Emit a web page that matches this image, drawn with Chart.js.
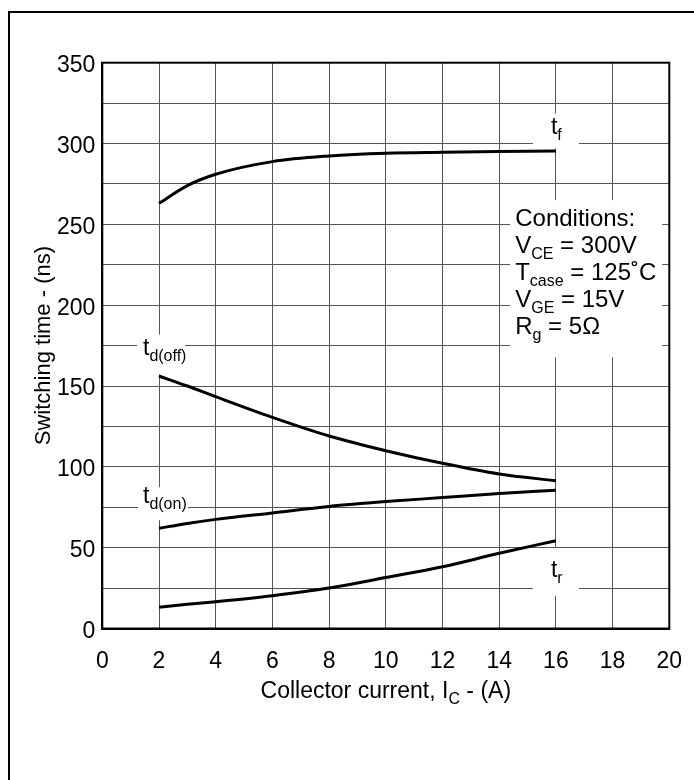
<!DOCTYPE html>
<html>
<head>
<meta charset="utf-8">
<style>
  html, body { margin: 0; padding: 0; background: #fff; }
  #wrap { width: 694px; height: 780px; }
</style>
</head>
<body>
<div id="wrap"><canvas id="switchChart" width="694" height="780"></canvas></div>
<script src="https://cdn.jsdelivr.net/npm/chart.js@4/dist/chart.umd.min.js"></script>
<script>
// collector current (A) and switching times (ns)
const current = [2, 3, 4, 6, 8, 10, 12, 14, 16];
const tf = [263, 274, 281, 288.8, 292.3, 294, 294.6, 295, 295.4];
const tdOff = [156.2, 150, 143.4, 130.6, 119.1, 110, 102.2, 95.6, 91.4];
const tdOn = [62, 65, 67.5, 71.5, 75.5, 78.5, 81, 83.5, 85.5];
const tr = [13.1, 15, 16.6, 20.3, 25, 31.5, 38.2, 46.5, 54.3];

const conditions = [
    [['Conditions:', 0]],
    [['V', 0], ['CE', 1], [' = 300V', 0]],
    [['T', 0], ['case', 1], [' = 125\u02DAC', 0]],
    [['V', 0], ['GE', 1], [' = 15V', 0]],
    [['R', 0], ['g', 1], [' = 5\u03A9', 0]]
];

const FONT = "'Liberation Sans', Arial, Helvetica, sans-serif";

function toPoints(ys) {
    return current.map((x, i) => ({ x: x, y: ys[i] }));
}

function curve(data) {
    return {
        data: toPoints(data),
        borderColor: '#000',
        borderWidth: 3,
        pointRadius: 0,
        cubicInterpolationMode: 'monotone',
        fill: false
    };
}

// text with subscripts: parts = [[text, isSub], ...]
function drawRich(ctx, x, y, parts, size, subSize, align) {
    ctx.textBaseline = 'alphabetic';
    ctx.textAlign = 'left';
    let total = 0;
    parts.forEach(p => {
        ctx.font = (p[1] ? subSize : size) + 'px ' + FONT;
        total += ctx.measureText(p[0]).width;
    });
    let cx = align === 'center' ? x - total / 2 : x;
    parts.forEach(p => {
        ctx.font = (p[1] ? subSize : size) + 'px ' + FONT;
        ctx.fillText(p[0], cx, p[1] ? y + 6 : y);
        cx += ctx.measureText(p[0]).width;
    });
}

// labels: anchor in data values, box and text as offsets in px from anchor
const curveLabels = [
    { ax: 16, ay: 300, box: [-23, -30, 46, 35], tx: -5, ty: -10, sub: 'f' },
    { ax: 2, ay: 175, box: [-22, -11, 48, 40], tx: -16, ty: 9, sub: 'd(off)' },
    { ax: 2, ay: 75, box: [-21, -20, 50, 33], tx: -16, ty: -4, sub: 'd(on)' },
    { ax: 16, ay: 25, box: [-23, -40, 46, 48], tx: -5, ty: -11, sub: 'r' }
];

const annotations = {
    id: 'annotations',
    beforeDatasetsDraw(chart) {
        const ctx = chart.ctx;
        const xs = chart.scales.x;
        const ys = chart.scales.y;
        ctx.save();
        ctx.fillStyle = '#fff';
        curveLabels.forEach(l => {
            const px = xs.getPixelForValue(l.ax);
            const py = ys.getPixelForValue(l.ay);
            ctx.fillRect(px + l.box[0], py + l.box[1], l.box[2], l.box[3]);
        });
        // conditions box
        const bx = xs.getPixelForValue(14);
        const by = ys.getPixelForValue(200);
        ctx.fillRect(bx + 11, by - 105, 152, 157);
        ctx.fillStyle = '#000';
        curveLabels.forEach(l => {
            const px = xs.getPixelForValue(l.ax);
            const py = ys.getPixelForValue(l.ay);
            drawRich(ctx, px + l.tx, py + l.ty, [['t', 0], [l.sub, 1]], 23, 16, 'left');
        });
        conditions.forEach((line, i) => {
            drawRich(ctx, bx + 16, by - 79 + i * 27, line, 24, 16, 'left');
        });
        ctx.restore();
    },
    afterDraw(chart) {
        const ctx = chart.ctx;
        const a = chart.chartArea;
        ctx.save();
        ctx.strokeStyle = '#000';
        ctx.lineWidth = 2;
        ctx.strokeRect(a.left, a.top, a.right - a.left, a.bottom - a.top);
        // outer frame
        ctx.fillStyle = '#000';
        ctx.fillRect(8, 11, 2, 769);
        ctx.fillRect(8, 11, 686, 2);
        // x axis title with subscript
        drawRich(ctx, (a.left + a.right) / 2, 698,
            [['Collector current, I', 0], ['C', 1], [' - (A)', 0]], 23, 16, 'center');
        ctx.restore();
    }
};

const chartCanvas = document.getElementById('switchChart');

new Chart(chartCanvas, {
    type: 'line',
    data: {
        datasets: [curve(tf), curve(tdOff), curve(tdOn), curve(tr)]
    },
    options: {
        responsive: false,
        animation: false,
        layout: {
            padding: { top: 62.7, right: 24.7, left: 0, bottom: 0 }
        },
        plugins: {
            legend: { display: false },
            tooltip: { enabled: false }
        },
        scales: {
            x: {
                type: 'linear',
                min: 0,
                max: 20,
                ticks: {
                    stepSize: 2,
                    padding: 19,
                    color: '#000',
                    font: { family: FONT, size: 23 }
                },
                grid: { color: '#555', lineWidth: 1, drawTicks: false },
                border: { color: '#000', width: 2 },
                afterFit(scale) {
                    scale.height = 151.5;
                    scale.paddingLeft = 0;
                    scale.paddingRight = 0;
                }
            },
            y: {
                min: 0,
                max: 350,
                ticks: {
                    stepSize: 25,
                    padding: 7,
                    labelOffset: 3,
                    color: '#000',
                    font: { family: FONT, size: 23 },
                    callback: v => (v % 50 === 0 ? v : '')
                },
                grid: { color: '#555', lineWidth: 1, drawTicks: false },
                border: { color: '#000', width: 2 },
                title: {
                    display: true,
                    text: 'Switching time - (ns)',
                    color: '#000',
                    padding: { top: 31, bottom: 0 },
                    font: { family: FONT, size: 22 }
                },
                afterFit(scale) {
                    scale.width = 102.3;
                    scale.paddingTop = 0;
                    scale.paddingBottom = 0;
                }
            }
        }
    },
    plugins: [annotations]
});
</script>
</body>
</html>
